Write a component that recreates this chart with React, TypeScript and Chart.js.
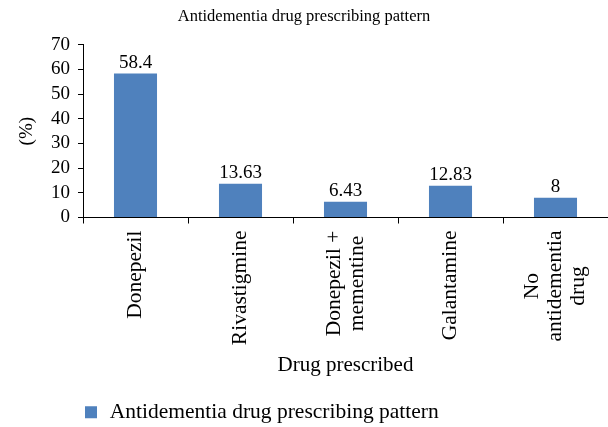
import React, { useEffect, useRef } from "react";
import { Chart, registerables, CategoryScale } from "chart.js";

const categories: (string | string[])[] = [
  "Donepezil",
  "Rivastigmine",
  ["Donepezil +", "mementine"],
  "Galantamine",
  ["No", "antidementia", "drug"],
];
const values = [58.4, 13.63, 6.43, 12.83, 8];
const valueLabels = ["58.4", "13.63", "6.43", "12.83", "8"];
const seriesName = "Antidementia drug prescribing pattern";
const chartTitle = "Antidementia drug prescribing pattern";
const yTitle = "(%)";
const xTitle = "Drug prescribed";

const FONT = "'Liberation Serif', 'DejaVu Serif', serif";

// Category scale whose rotated multi-line labels have their lines centred on one another
class CenteredCategoryScale extends (CategoryScale as any) {
  _computeLabelItems(chartArea: any) {
    const items = super._computeLabelItems(chartArea);
    const ctx = (this as any).ctx;
    items.forEach((item: any) => {
      const lines = Array.isArray(item.label) ? item.label : [item.label];
      ctx.save();
      ctx.font = item.font.string;
      const w = Math.max(...lines.map((l: string) => ctx.measureText(l).width));
      ctx.restore();
      const [x, y] = item.options.translation;
      item.options.textAlign = "center";
      item.options.translation = [
        x - ((lines.length - 1) * item.font.lineHeight) / 2,
        y + w / 2,
      ];
    });
    return items;
  }
}
(CenteredCategoryScale as any).id = "centeredCategory";
(CenteredCategoryScale as any).defaults = (CategoryScale as any).defaults;

Chart.register(...registerables, CenteredCategoryScale as any);

const valueLabelPlugin = {
  id: "valueLabels",
  afterDatasetsDraw(chart: any) {
    const meta = chart.getDatasetMeta(0);
    const ctx = chart.ctx;
    ctx.save();
    ctx.font = `19px ${FONT}`;
    ctx.fillStyle = "#000";
    ctx.textAlign = "center";
    ctx.textBaseline = "bottom";
    meta.data.forEach((bar: any, i: number) => {
      ctx.fillText(valueLabels[i], bar.x, bar.y - 1);
    });
    ctx.restore();
  },
};

export default function App() {
  const ref = useRef<HTMLCanvasElement | null>(null);
  useEffect(() => {
    document.body.style.margin = "0";
    const chart = new Chart(ref.current!, {
      type: "bar",
      data: {
        labels: categories,
        datasets: [
          {
            label: seriesName,
            data: values,
            backgroundColor: "#4F81BD",
            borderWidth: 0,
            barPercentage: 0.41,
            categoryPercentage: 1,
          },
        ],
      },
      options: {
        animation: false,
        responsive: false,
        layout: { padding: { left: 0, right: 0, top: 0, bottom: -6 } },
        plugins: {
          title: {
            display: true,
            text: chartTitle,
            color: "#000",
            font: { family: FONT, size: 16.5, weight: "normal" },
            padding: { top: 7, bottom: 18 },
          },
          legend: {
            display: true,
            position: "bottom",
            align: "start",
            fullSize: false,
            labels: {
              usePointStyle: true,
              pointStyle: "rect",
              boxWidth: 16,
              boxHeight: 12,
              padding: 0,
              color: "#000",
              font: { family: FONT, size: 21.5 },
            },
          },
          tooltip: { enabled: false },
        },
        scales: {
          x: {
            type: "centeredCategory" as any,
            grid: {
              display: true,
              drawOnChartArea: false,
              tickLength: 6,
              color: "#000",
            },
            border: { color: "#000" },
            ticks: {
              color: "#000",
              font: { family: FONT, size: 21.5, lineHeight: 1.08 },
              minRotation: 90,
              maxRotation: 90,
              autoSkip: false,
              padding: 7,
            },
            title: {
              display: true,
              text: xTitle,
              color: "#000",
              font: { family: FONT, size: 21 },
              padding: { top: 0, bottom: 23 },
            },
            afterFit: (scale: any) => {
              scale.height = 184;
              scale.paddingRight = 0;
              scale.paddingLeft = 0;
            },
          },
          y: {
            min: 0,
            max: 70,
            grid: {
              display: true,
              drawOnChartArea: false,
              tickLength: 5,
              color: "#000",
            },
            border: { color: "#000" },
            ticks: {
              stepSize: 10,
              autoSkip: false,
              color: "#000",
              font: { family: FONT, size: 19 },
              padding: 8,
            },
            title: {
              display: true,
              text: yTitle,
              color: "#000",
              font: { family: FONT, size: 19 },
              padding: { top: 16, bottom: 0 },
            },
            afterFit: (scale: any) => {
              scale.width = 83;
            },
          },
        },
      },
      plugins: [valueLabelPlugin],
    });
    return () => chart.destroy();
  }, []);
  return (
    <div style={{ width: 608, height: 427 }}>
      <canvas ref={ref} width={608} height={427} />
    </div>
  );
}
